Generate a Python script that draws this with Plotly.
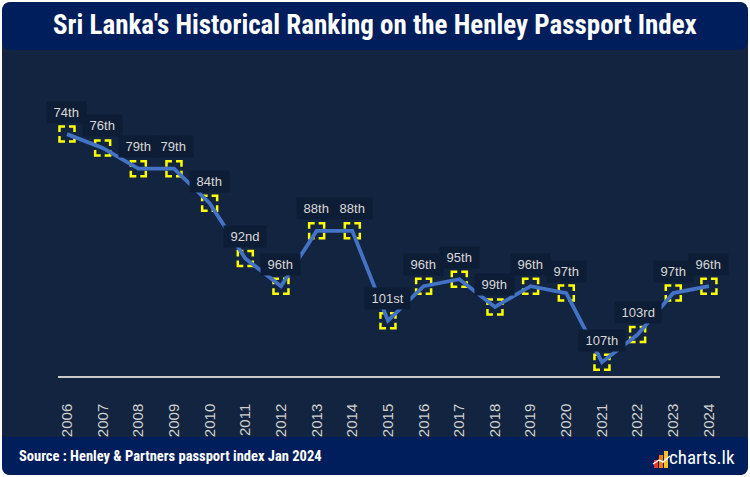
import plotly.graph_objects as go

years = [2006, 2007, 2008, 2009, 2010, 2011, 2012, 2013, 2014, 2015,
         2016, 2017, 2018, 2019, 2020, 2021, 2022, 2023, 2024]
ranks = [74, 76, 79, 79, 84, 92, 96, 88, 88, 101, 96, 95, 99, 96, 97, 107, 103, 97, 96]
rank_labels = ["74th", "76th", "79th", "79th", "84th", "92nd", "96th", "88th", "88th", "101st",
               "96th", "95th", "99th", "96th", "97th", "107th", "103rd", "97th", "96th"]
tick_labels = [str(y) for y in years]

title_text = "Sri Lanka's Historical Ranking on the Henley Passport Index"
source_text = "Source : Henley & Partners passport index Jan 2024"
logo_text = "charts.lk"

W, H = 750, 477
BG = "#12243f"
NAVY = "#011e5c"
NARROW = "Roboto Condensed, DejaVu Sans Condensed, sans-serif"


def px(x):
    return x / W


def py(y):
    return 1 - y / H


def rrect(x0, y0, x1, y1, r):
    rx, ry = r / W, r / H
    X0, X1 = px(x0), px(x1)
    Y0, Y1 = py(y1), py(y0)  # Y0 bottom, Y1 top
    return (f"M {X0+rx},{Y0} L {X1-rx},{Y0} Q {X1},{Y0} {X1},{Y0+ry} "
            f"L {X1},{Y1-ry} Q {X1},{Y1} {X1-rx},{Y1} L {X0+rx},{Y1} "
            f"Q {X0},{Y1} {X0},{Y1-ry} L {X0},{Y0+ry} Q {X0},{Y0} {X0+rx},{Y0} Z")


fig = go.Figure()

# yellow squares
fig.add_trace(go.Scatter(
    x=years, y=ranks, mode="markers",
    marker=dict(symbol="square-open", size=15, color="#ffff00",
                line=dict(color="#ffff00", width=2.5)),
    hoverinfo="skip", showlegend=False))
# gaps to create dashed look
fig.add_trace(go.Scatter(
    x=years, y=ranks, mode="markers",
    marker=dict(symbol="cross-thin-open", size=19, color=BG,
                line=dict(color=BG, width=4)),
    hoverinfo="skip", showlegend=False))
# line
fig.add_trace(go.Scatter(
    x=years, y=ranks, mode="lines",
    line=dict(color="#4472c4", width=3.8),
    hoverinfo="skip", showlegend=False))

annotations = []
for x, y, t in zip(years, ranks, rank_labels):
    annotations.append(dict(
        x=x, y=y, xref="x", yref="y", text=f"&nbsp;{t}&nbsp;", showarrow=False,
        yshift=22, bgcolor="#0e1d36", borderpad=3,
        font=dict(family="Liberation Sans, Arial, sans-serif", size=13, color="#d8d8d8")))

annotations += [
    dict(x=0.5, y=py(25), xref="paper", yref="paper", text=f"<b>{title_text}</b>",
         showarrow=False, xanchor="center", yanchor="middle",
         font=dict(family=NARROW, size=27, color="white")),
    dict(x=px(17), y=py(456), xref="paper", yref="paper", text=f"<b>{source_text}</b>",
         showarrow=False, xanchor="left", yanchor="middle",
         font=dict(family=NARROW, size=14.5, color="white")),
    dict(x=px(737), y=py(457), xref="paper", yref="paper", text=logo_text,
         showarrow=False, xanchor="right", yanchor="middle",
         font=dict(family=NARROW, size=19, color="white")),
]

shapes = [
    dict(type="path", path=rrect(2, 2, 748, 475, 9), xref="paper", yref="paper",
         fillcolor=BG, line=dict(width=0), layer="below"),
    dict(type="path", path=rrect(2, 2, 748, 50, 10), xref="paper", yref="paper",
         fillcolor=NAVY, line=dict(width=0), layer="below"),
    dict(type="path", path=rrect(2, 437, 748, 475, 9), xref="paper", yref="paper",
         fillcolor=NAVY, line=dict(width=0), layer="below"),
    dict(type="rect", x0=px(2), x1=px(748), y0=py(447), y1=py(437), xref="paper", yref="paper",
         fillcolor=NAVY, line=dict(width=0), layer="below"),
    # logo bars
    dict(type="rect", x0=px(654), x1=px(658), y0=py(468), y1=py(460), xref="paper", yref="paper",
         fillcolor="#e53935", line=dict(width=0)),
    dict(type="rect", x0=px(659), x1=px(663), y0=py(468), y1=py(455), xref="paper", yref="paper",
         fillcolor="#f57c00", line=dict(width=0)),
    dict(type="rect", x0=px(664), x1=px(668), y0=py(468), y1=py(451), xref="paper", yref="paper",
         fillcolor="#fbc02d", line=dict(width=0)),
    dict(type="path", path=f"M {px(653)},{py(464)} L {px(659)},{py(460)} L {px(663)},{py(462)} L {px(670)},{py(456)}",
         xref="paper", yref="paper", line=dict(color="white", width=1.5)),
]

fig.update_layout(
    width=W, height=H,
    margin=dict(l=0, r=0, t=0, b=0),
    paper_bgcolor="white",
    plot_bgcolor="rgba(0,0,0,0)",
    showlegend=False,
    annotations=annotations,
    shapes=shapes,
    xaxis=dict(
        domain=[58 / W, 720 / W],
        range=[2005.748, 2024.31],
        tickmode="array", tickvals=years, ticktext=tick_labels,
        tickangle=-90, showgrid=False, zeroline=False,
        showline=True, linecolor="#c8c8c8", linewidth=1.5,
        ticks="", ticklabelstandoff=20,
        tickfont=dict(family="Liberation Sans, Arial, sans-serif", size=15, color="#d0d0d0"),
    ),
    yaxis=dict(
        domain=[1 - 376 / H, 1 - 65 / H],
        range=[109, 64],
        showgrid=False, zeroline=False, showline=False,
        showticklabels=False, ticks="",
    ),
)

fig.write_html("out.html", config={"displayModeBar": False},
               post_script="document.body.style.margin='0';")
